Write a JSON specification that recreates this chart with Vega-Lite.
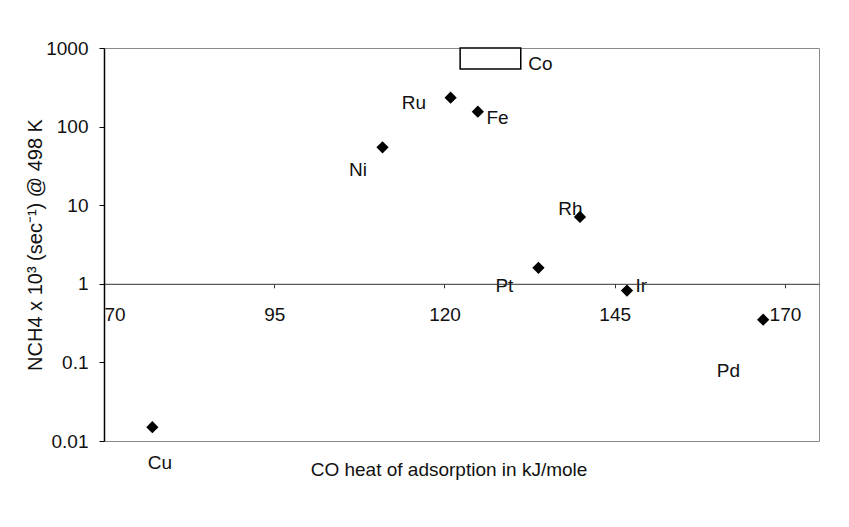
{
  "$schema": "https://vega.github.io/schema/vega-lite/v6.json",
  "width": 715,
  "height": 393,
  "autosize": {"type": "none"},
  "padding": {"left": 104, "top": 48, "right": 30, "bottom": 86},
  "background": "white",
  "config": {
    "view": {"stroke": "#8a8a8a", "strokeWidth": 1},
    "font": "Liberation Sans"
  },
  "datasets": {
    "points": [
      {"metal": "Cu", "x": 77.1, "y": 0.015},
      {"metal": "Ni", "x": 110.9, "y": 54.5},
      {"metal": "Ru", "x": 120.9, "y": 233},
      {"metal": "Fe", "x": 124.9, "y": 155},
      {"metal": "Pt", "x": 133.8, "y": 1.6},
      {"metal": "Rh", "x": 139.9, "y": 7.1},
      {"metal": "Ir", "x": 146.8, "y": 0.82},
      {"metal": "Pd", "x": 166.8, "y": 0.35}
    ],
    "co": [
      {"metal": "Co", "x": 122.3, "x2": 131.2, "y": 540, "y2": 1000}
    ],
    "labels": [
      {"metal": "Cu", "x": 78.2, "y": 0.0052},
      {"metal": "Ni", "x": 107.3, "y": 28},
      {"metal": "Ru", "x": 115.5, "y": 200},
      {"metal": "Fe", "x": 127.8, "y": 128},
      {"metal": "Co", "x": 134.1, "y": 625},
      {"metal": "Rh", "x": 138.5, "y": 9.0},
      {"metal": "Pt", "x": 128.8, "y": 0.94},
      {"metal": "Ir", "x": 148.9, "y": 0.94},
      {"metal": "Pd", "x": 161.7, "y": 0.078}
    ]
  },
  "encoding": {
    "x": {
      "field": "x",
      "type": "quantitative",
      "scale": {"domain": [70, 175], "nice": false, "zero": false},
      "axis": {
        "orient": "bottom",
        "offset": -157.2,
        "values": [70, 95, 120, 145, 170],
        "title": "CO heat of adsorption in kJ/mole",
        "grid": false,
        "domainColor": "#333333",
        "domainWidth": 1,
        "tickColor": "#333333",
        "tickSize": 4,
        "labelFontSize": 19,
        "labelFont": "Liberation Sans",
        "labelColor": "#111111",
        "labelPadding": 27,
        "labelBaseline": "middle",
        "labelOverlap": false,
        "titleFont": "Liberation Sans",
        "titleFontSize": 19,
        "titleFontWeight": "normal",
        "titleColor": "#111111",
        "titleX": 344.5,
        "titleY": 186,
        "titleBaseline": "middle",
        "titleAlign": "center",
        "zindex": 1
      }
    },
    "y": {
      "field": "y",
      "type": "quantitative",
      "scale": {"type": "log", "domain": [0.01, 1000], "nice": false},
      "axis": {
        "values": [0.01, 0.1, 1, 10, 100, 1000],
        "format": "~g",
        "title": "NCH4 x 10³ (sec⁻¹) @ 498 K",
        "grid": false,
        "domainColor": "#000000",
        "domainWidth": 1.5,
        "tickColor": "#000000",
        "tickSize": 5,
        "labelFontSize": 19,
        "labelFont": "Liberation Sans",
        "labelColor": "#111111",
        "labelPadding": 11,
        "labelFlush": false,
        "labelOverlap": false,
        "titleFont": "Liberation Sans",
        "titleFontSize": 20,
        "titleFontWeight": "normal",
        "titleColor": "#111111",
        "titleX": -69,
        "titleY": 196.5,
        "titleAngle": -90,
        "titleBaseline": "middle",
        "titleAlign": "center",
        "zindex": 1
      }
    }
  },
  "layer": [
    {
      "data": {"name": "co"},
      "mark": {"type": "rect", "fill": "white", "stroke": "black", "strokeWidth": 1.5},
      "encoding": {
        "x2": {"field": "x2"},
        "y2": {"field": "y2"}
      }
    },
    {
      "data": {"name": "labels"},
      "mark": {"type": "text", "fontSize": 19, "font": "Liberation Sans", "color": "#111111", "align": "center", "baseline": "middle"},
      "encoding": {
        "text": {"field": "metal", "type": "nominal"}
      }
    },
    {
      "data": {"name": "points"},
      "mark": {"type": "point", "shape": "diamond", "filled": true, "color": "black", "size": 150, "opacity": 1},
      "encoding": {}
    }
  ]
}
